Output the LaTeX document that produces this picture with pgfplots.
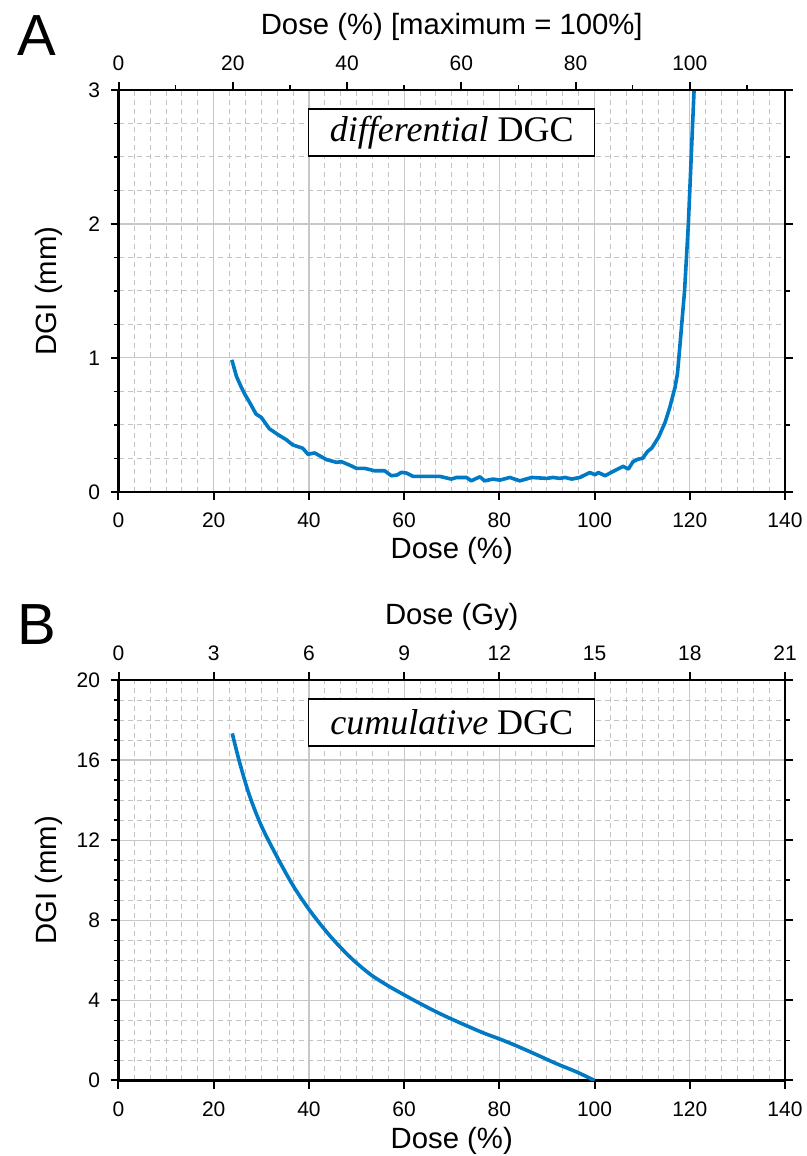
\documentclass[border=0pt]{standalone}
\usepackage{fontspec}
\setmainfont{Liberation Sans}
\newfontfamily\timesfont{Liberation Serif}
\usepackage{pgfplots}
\usepackage{pgfplotstable}
\pgfplotsset{compat=1.18}
\definecolor{curve}{RGB}{0,122,196}
\definecolor{gridsolid}{RGB}{200,200,200}
\definecolor{griddash}{RGB}{195,195,195}

\pgfplotstableread{
x y
23.8 0.985
24.8 0.86
25.8 0.78
26.5 0.73
27.5 0.67
28.9 0.58
30.0 0.555
31.7 0.47
33.8 0.42
35.2 0.39
36.6 0.35
38.7 0.325
39.8 0.28
41.2 0.29
43.7 0.24
45.8 0.22
46.8 0.225
48.5 0.20
50.0 0.175
51.7 0.175
53.8 0.157
55.9 0.157
57.3 0.12
58.5 0.125
59.4 0.145
60.5 0.14
61.9 0.115
65.0 0.115
67.5 0.115
69.9 0.095
71.0 0.107
73.1 0.107
74.1 0.082
75.9 0.112
76.9 0.082
78.7 0.095
80.1 0.087
82.2 0.107
84.3 0.082
86.8 0.107
89.9 0.100
91.3 0.107
92.7 0.100
93.8 0.107
95.2 0.095
96.9 0.107
99.0 0.144
100.1 0.127
100.8 0.144
102.2 0.120
103.9 0.152
106.0 0.190
107.1 0.170
108.1 0.226
109.2 0.244
110.1 0.250
111.1 0.300
112.0 0.326
113.4 0.405
114.8 0.517
115.8 0.630
116.9 0.780
117.4 0.880
117.9 1.080
118.9 1.500
119.7 2.000
120.3 2.500
120.9 3.000
121.0 3.100
}\dgcdiff

\pgfplotstableread{
x y
23.9 17.33
25.5 15.83
27.6 14.17
30.1 12.67
33.3 11.17
36.7 9.72
40.3 8.45
44.5 7.20
48.7 6.15
52.9 5.30
56.7 4.72
60.2 4.25
64.1 3.75
68.3 3.25
72.5 2.80
76.7 2.37
80.2 2.06
83.7 1.72
87.9 1.28
92.1 0.83
96.3 0.42
100.0 0.00
}\dgccum

\pgfplotsset{
  base/.style={
    scale only axis, width=666.5pt,
    /pgf/number format/assume math mode=true,
    tick label style={font=\fontsize{21}{24}\selectfont},
    label style={font=\fontsize{29.3}{34}\selectfont},
    tick align=outside, major tick length=8pt, minor tick length=4.5pt,
    every tick/.style={black, line width=2pt},
    every minor tick/.style={black, line width=1.5pt},
    axis line style={line width=2.5pt, -},
  },
  gridax/.style={
    base, grid=both,
    major grid style={gridsolid, line width=1.2pt},
    minor grid style={griddash, line width=1pt, dash pattern=on 5pt off 4pt},
    xticklabels={}, yticklabels={},
    major tick length=0pt, minor tick length=0pt,
    axis line style={draw=none},
  },
  lowax/.style={
    base, axis x line*=bottom, axis y line*=left,
    xticklabel style={yshift=-10pt},
    yticklabel style={xshift=-7pt},
  },
  topax/.style={
    base, axis x line*=top, axis y line*=right,
    xticklabel style={yshift=8pt},
  },
}

\begin{document}
\begin{tikzpicture}
\useasboundingbox (0,0) rectangle (806pt,1156pt);

% ---------------- Panel A ----------------
\begin{axis}[gridax, height=401.8pt, at={(118.5pt,664.2pt)}, anchor=south west,
  xmin=0, xmax=140, ymin=0, ymax=3,
  xtick={0,20,...,140}, ytick={0,1,2,3}, minor x tick num=5, minor y tick num=3]
\end{axis}

\begin{axis}[lowax, height=401.8pt, at={(118.5pt,664.2pt)}, anchor=south west,
  xmin=0, xmax=140, ymin=0, ymax=3,
  xtick={0,20,...,140}, ytick={0,1,2,3}, minor y tick num=3,
  xlabel={Dose (\%)}, ylabel={DGI (mm)},
  xlabel style={at={(axis description cs:0.5,-0.147)}, anchor=center},
  ylabel style={at={(axis description cs:-0.105,0.5)}, anchor=center}]
\addplot[curve, line width=3.6pt, line join=round] table {\dgcdiff};
\node[draw=black, line width=1.2pt, fill=white, minimum width=286pt, minimum height=47pt,
  font={\timesfont\fontsize{36}{40}\selectfont}] at (axis description cs:0.5,0.894)
  {\textit{differential} DGC};
\end{axis}

\begin{axis}[topax, height=401.8pt, at={(118.5pt,664.2pt)}, anchor=south west,
  xmin=0, xmax=116.6667, ymin=0, ymax=3,
  xtick={0,20,...,100}, minor xtick={10,30,...,110},
  ytick={0,1,2,3}, minor ytick={0.5,1.5,2.5}, yticklabels={},
  xlabel={Dose (\%) [maximum = 100\%]},
  xlabel style={at={(axis description cs:0.5,1.157)}, anchor=center}]
\end{axis}

\node[font=\fontsize{58}{60}\selectfont] at (37pt,1120pt) {A};

% ---------------- Panel B ----------------
\begin{axis}[gridax, height=400.5pt, at={(118.5pt,75.5pt)}, anchor=south west,
  xmin=0, xmax=140, ymin=0, ymax=20,
  xtick={0,20,...,140}, ytick={0,4,...,20}, minor x tick num=5, minor y tick num=3]
\end{axis}

\begin{axis}[lowax, height=400.5pt, at={(118.5pt,75.5pt)}, anchor=south west,
  xmin=0, xmax=140, ymin=0, ymax=20,
  xtick={0,20,...,140}, ytick={0,4,...,20}, minor y tick num=3,
  xlabel={Dose (\%)}, ylabel={DGI (mm)},
  xlabel style={at={(axis description cs:0.5,-0.150)}, anchor=center},
  ylabel style={at={(axis description cs:-0.105,0.5)}, anchor=center}]
\addplot[curve, line width=3.6pt, line join=round, smooth, tension=0.5] table {\dgccum};
\node[draw=black, line width=1.2pt, fill=white, minimum width=286pt, minimum height=47pt,
  font={\timesfont\fontsize{36}{40}\selectfont}] at (axis description cs:0.5,0.894)
  {\textit{cumulative} DGC};
\end{axis}

\begin{axis}[topax, height=400.5pt, at={(118.5pt,75.5pt)}, anchor=south west,
  xmin=0, xmax=21, ymin=0, ymax=20,
  xtick={0,3,...,21},
  ytick={0,4,...,20}, minor ytick={2,6,...,18}, yticklabels={},
  xlabel={Dose (Gy)},
  xlabel style={at={(axis description cs:0.5,1.157)}, anchor=center}]
\end{axis}

\node[font=\fontsize{58}{60}\selectfont] at (37pt,531pt) {B};
\end{tikzpicture}
\end{document}
